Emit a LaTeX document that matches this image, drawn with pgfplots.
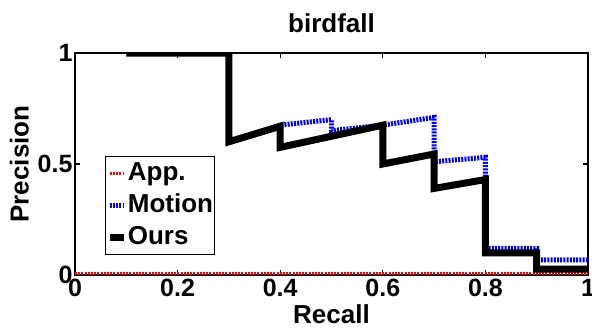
\documentclass[border=0pt]{standalone}
\usepackage{pgfplots}
\pgfplotsset{compat=1.18}
\usepackage{fontspec}
\setmainfont{Liberation Sans}
\begin{document}
\begin{tikzpicture}[x=1pt,y=1pt]
\begin{axis}[
  at={(0pt,0pt)}, anchor=south west,
  scale only axis, width=513pt, height=222pt,
  xmin=0, xmax=1, ymin=0, ymax=1,
  xtick={0,0.2,0.4,0.6,0.8,1}, ytick={0,0.5,1},
  tick align=inside, major tick length=5pt,
  axis line style={line width=1.2pt},
  every tick/.style={black, line width=1.2pt},
  /pgf/number format/assume math mode=true,
  tick label style={font=\bfseries\fontsize{25}{27}\selectfont},
  xticklabel style={yshift=-1pt},
  yticklabel style={xshift=1pt},
  title={birdfall},
  title style={font=\bfseries\fontsize{26}{28}\selectfont, yshift=11pt},
  xlabel={Recall},
  xlabel style={font=\bfseries\fontsize{26}{28}\selectfont, yshift=-1pt},
  ylabel={Precision},
  ylabel style={font=\bfseries\fontsize{26}{28}\selectfont, yshift=2pt},
  legend style={at={(0.058,0.535)}, anchor=north west, draw=black, line width=1.2pt,
    font=\bfseries\fontsize{26}{28}\selectfont, inner xsep=1pt, inner ysep=5pt,
    row sep=8pt, nodes={inner sep=0.5pt, anchor=west, text height=18pt, text depth=5pt}},
  legend cell align=left,
  legend image code/.code={\draw[#1] (0pt,0pt) -- (14pt,0pt);},
]
\addplot[red, line width=3pt, dash pattern=on 2pt off 1.2pt] coordinates {(0,0.008) (1,0.008)};
\addlegendentry{App.}
\addplot[blue, line width=5pt, dash pattern=on 2pt off 1.2pt] coordinates {
(0.1,1) (0.3,1) (0.3,0.6) (0.4,0.675) (0.5,0.70) (0.5,0.65) (0.6,0.675) (0.7,0.71)
(0.7,0.51) (0.8,0.53) (0.8,0.12) (0.9,0.12) (0.9,0.068) (1,0.068)};
\addlegendentry{Motion}
\addplot[black, line width=7pt, line join=miter, miter limit=2] coordinates {
(0.1,1) (0.3,1) (0.3,0.6) (0.4,0.67) (0.4,0.575) (0.6,0.675) (0.6,0.50) (0.7,0.545)
(0.7,0.39) (0.8,0.43) (0.8,0.10) (0.9,0.10) (0.9,0.027) (1,0.027)};
\addlegendentry{Ours}
\end{axis}
\pgfresetboundingbox
\path[use as bounding box] (-75pt,-55pt) rectangle (517pt,275pt);
\end{tikzpicture}
\end{document}
